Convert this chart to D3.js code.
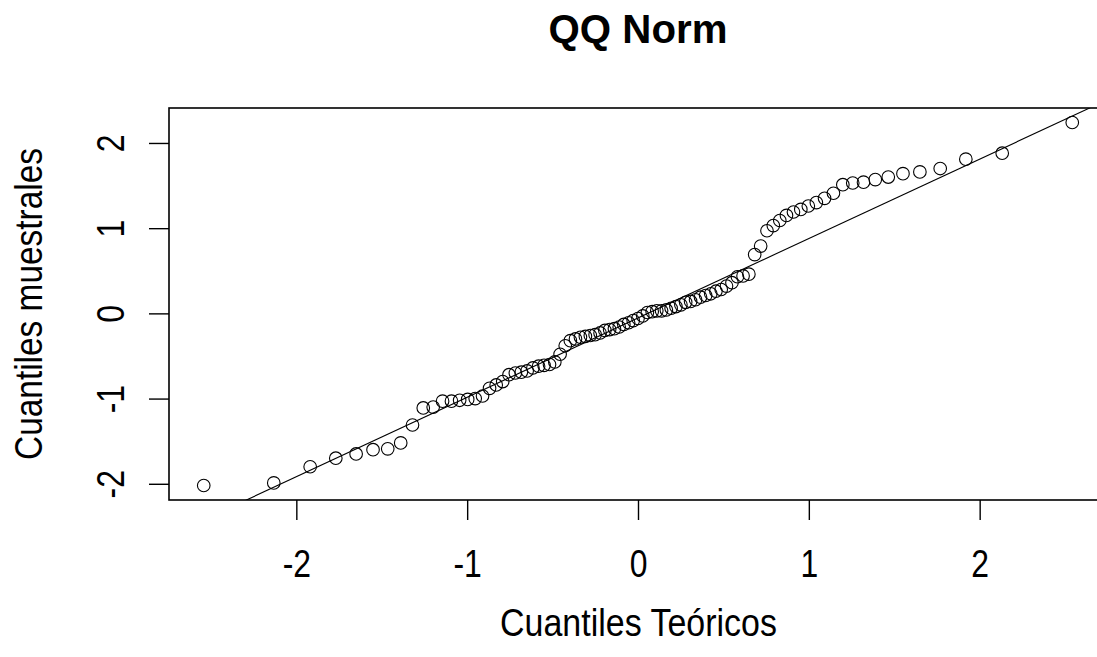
<!DOCTYPE html>
<meta charset="utf-8">
<svg width="1097" height="657"></svg>
<style>
  body { margin: 0; background: #fff; }
  svg { display: block; font-family: "Liberation Sans", Arial, sans-serif; }
  .pt { fill: none; stroke: #000; stroke-width: 1.1; }
</style>
<script src="https://cdn.jsdelivr.net/npm/d3@7"></script>
<script>

// theoretical normal quantiles (n = 91)
var teoricos = [
  -2.542, -2.132, -1.919, -1.769, -1.650, -1.551, -1.465, -1.389, -1.320, -1.257,
  -1.199, -1.144, -1.092, -1.044, -0.997, -0.953, -0.910, -0.869, -0.830, -0.792,
  -0.755, -0.718, -0.683, -0.649, -0.615, -0.582, -0.550, -0.518, -0.487, -0.456,
  -0.426, -0.396, -0.366, -0.337, -0.308, -0.279, -0.251, -0.222, -0.194, -0.166,
  -0.138, -0.110, -0.083, -0.055, -0.028, 0.000, 0.028, 0.055, 0.083, 0.110,
  0.138, 0.166, 0.194, 0.222, 0.251, 0.279, 0.308, 0.337, 0.366, 0.396,
  0.426, 0.456, 0.487, 0.518, 0.550, 0.582, 0.615, 0.649, 0.683, 0.718,
  0.755, 0.792, 0.830, 0.869, 0.910, 0.953, 0.997, 1.044, 1.092, 1.144,
  1.199, 1.257, 1.320, 1.389, 1.465, 1.551, 1.650, 1.769, 1.919, 2.132,
  2.542
];

// sorted sample values
var muestrales = [
  -2.02, -1.99, -1.80, -1.70, -1.65, -1.60, -1.59, -1.52, -1.31, -1.11,
  -1.10, -1.03, -1.03, -1.02, -1.01, -1.00, -0.97, -0.88, -0.84, -0.80,
  -0.72, -0.70, -0.69, -0.675, -0.64, -0.62, -0.61, -0.60, -0.57, -0.48,
  -0.38, -0.32, -0.30, -0.28, -0.27, -0.26, -0.25, -0.23, -0.20, -0.19,
  -0.18, -0.16, -0.13, -0.11, -0.085, -0.06, -0.03, 0.01, 0.02, 0.03,
  0.03, 0.04, 0.06, 0.08, 0.10, 0.13, 0.14, 0.16, 0.19, 0.21,
  0.23, 0.26, 0.28, 0.32, 0.36, 0.43, 0.44, 0.46, 0.69, 0.79,
  0.97, 1.03, 1.09, 1.15, 1.19, 1.22, 1.26, 1.30, 1.35, 1.41,
  1.51, 1.53, 1.54, 1.57, 1.60, 1.64, 1.66, 1.70, 1.81, 1.88,
  2.24
];

var xTicks = [-2, -1, 0, 1, 2];
var yTicks = [-2, -1, 0, 1, 2];

var titulo = "QQ Norm",
    xTitulo = "Cuantiles Teóricos",
    yTitulo = "Cuantiles muestrales";

var svg = d3.select("svg");

// plot region (right edge runs past the window, like the reference)
var pLeft = 169, pRight = 1107, pTop = 108, pBottom = 500;

// R style 4% padding of the data range
function pad(ext) {
  var d = (ext[1] - ext[0]) * 0.04;
  return [ext[0] - d, ext[1] + d];
}

var x = d3.scaleLinear().domain(pad(d3.extent(teoricos))).range([pLeft, pRight]);
var y = d3.scaleLinear().domain(pad(d3.extent(muestrales))).range([pBottom, pTop]);

svg.append("clipPath").attr("id", "clip")
  .append("rect")
  .attr("x", pLeft).attr("y", pTop)
  .attr("width", pRight - pLeft).attr("height", pBottom - pTop);

// squeeze text horizontally to the narrow look of the original
function fit(t, w) {
  var len = t.node().getComputedTextLength();
  return w ? w / len : 0.84;
}

// qqline through the quartiles
var q1 = d3.quantile(muestrales, 0.25), q3 = d3.quantile(muestrales, 0.75);
var z1 = -0.6745, z3 = 0.6745;
var slope = (q3 - q1) / (z3 - z1),
    inter = q1 - slope * z1;

var xd = x.domain();
svg.append("line")
  .attr("clip-path", "url(#clip)")
  .attr("x1", x(xd[0])).attr("y1", y(inter + slope * xd[0]))
  .attr("x2", x(xd[1])).attr("y2", y(inter + slope * xd[1]))
  .attr("stroke", "#000").attr("stroke-width", 1.1);

// points
svg.append("g").selectAll("circle")
  .data(teoricos)
  .enter().append("circle")
  .attr("class", "pt")
  .attr("cx", function (d) { return x(d); })
  .attr("cy", function (d, i) { return y(muestrales[i]); })
  .attr("r", 6.3);

// box
svg.append("rect")
  .attr("x", pLeft).attr("y", pTop)
  .attr("width", pRight - pLeft).attr("height", pBottom - pTop)
  .attr("fill", "none").attr("stroke", "#000").attr("stroke-width", 1.6);

// x axis
var gx = svg.append("g")
  .attr("transform", "translate(0," + pBottom + ")")
  .call(d3.axisBottom(x).tickValues(xTicks).tickSize(20).tickSizeOuter(0)
    .tickFormat(function (d) { return d; }));
gx.select(".domain").remove();
gx.selectAll(".tick line").attr("stroke", "#000").attr("stroke-width", 1.4);
gx.selectAll(".tick text")
  .attr("font-size", 38).attr("fill", "#000")
  .attr("y", 77).attr("dy", 0)
  .attr("font-family", "Liberation Sans, Arial, sans-serif")
  .attr("transform", "scale(0.84,1)");

// y axis
var gy = svg.append("g")
  .attr("transform", "translate(" + pLeft + ",0)")
  .call(d3.axisLeft(y).tickValues(yTicks).tickSize(20).tickSizeOuter(0)
    .tickFormat(function (d) { return d; }));
gy.select(".domain").remove();
gy.selectAll(".tick line").attr("stroke", "#000").attr("stroke-width", 1.4);
gy.selectAll(".tick text")
  .attr("font-size", 38).attr("fill", "#000")
  .attr("x", 0).attr("y", 0).attr("dy", 0)
  .attr("text-anchor", "middle")
  .attr("font-family", "Liberation Sans, Arial, sans-serif")
  .attr("transform", "translate(-45,0) rotate(-90) scale(0.84,1)");

// titles
var t = svg.append("text")
  .attr("text-anchor", "middle").attr("font-size", 40).attr("font-weight", "bold")
  .text(titulo);
t.attr("transform", "translate(638,43) scale(" + fit(t, 179) + ",1)");

var tx = svg.append("text")
  .attr("text-anchor", "middle").attr("font-size", 38)
  .text(xTitulo);
tx.attr("transform", "translate(638.5,636) scale(" + fit(tx, 277) + ",1)");

var ty = svg.append("text")
  .attr("text-anchor", "middle").attr("font-size", 38)
  .text(yTitulo);
ty.attr("transform", "translate(42,304) rotate(-90) scale(" + fit(ty, 312) + ",1)");

</script>
